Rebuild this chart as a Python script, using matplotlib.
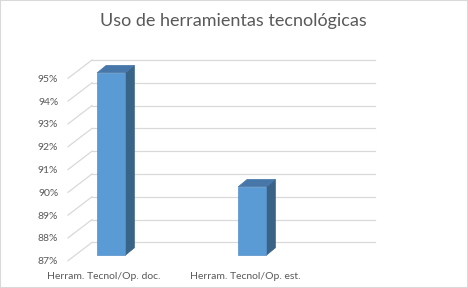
import matplotlib
matplotlib.use("Agg")
import matplotlib.pyplot as plt
from matplotlib.patches import Polygon, Rectangle
from matplotlib.ticker import FuncFormatter

categories = ["Herram. Tecnol/Op. doc.", "Herram. Tecnol/Op. est."]
values = [95, 90]
y_ticks = [87, 88, 89, 90, 91, 92, 93, 94, 95]
title = "Uso de herramientas tecnológicas"

plt.rcParams["font.family"] = ["Lato", "DejaVu Sans"]
TEXT = "#595959"
GRID = "#d9d9d9"
FRONT = "#5b9bd5"
TOP = "#4677a8"
SIDE = "#3a6388"

W, H = 468, 288
fig = plt.figure(figsize=(W / 100, H / 100), dpi=100)
fig.patch.set_facecolor("white")

# front plane of the 3d box, in pixels
left, right, top, bottom = 68, 351, 78.3, 260.7
ax = fig.add_axes([left / W, 1 - bottom / H, (right - left) / W, (bottom - top) / H])
ax.set_xlim(-0.255, 1.752)
ax.set_ylim(y_ticks[0], y_ticks[-1])

px_x = (right - left) / (1.752 + 0.255)
px_y = (bottom - top) / (y_ticks[-1] - y_ticks[0])

# wall depth offset (pixels -> data)
wdx, wdy = 24 / px_x, 18.3 / px_y
x0, x1 = ax.get_xlim()
for v in y_ticks:
    ax.plot([x0 + wdx, x1 + wdx], [v + wdy, v + wdy], color=GRID, lw=0.9,
            clip_on=False, zorder=1)
    ax.plot([x0, x0 + wdx], [v, v + wdy], color=GRID, lw=0.9,
            clip_on=False, zorder=1)

# bars
bw = 0.2
bx, by = 7.3 / px_x, 5.5 / px_y
ddx, ddy = 9 / px_x, 7.4 / px_y
for i, v in enumerate(values):
    xa, xb = i - bw / 2 + bx, i + bw / 2 + bx
    ya, yb = y_ticks[0] + by, v + by
    ax.add_patch(Polygon([(xb, ya), (xb, yb), (xb + ddx, yb + ddy), (xb + ddx, ya + ddy)],
                         closed=True, facecolor=SIDE, edgecolor=SIDE, lw=0.5,
                         clip_on=False, zorder=3))
    ax.add_patch(Polygon([(xa, yb), (xb, yb), (xb + ddx, yb + ddy), (xa + ddx, yb + ddy)],
                         closed=True, facecolor=TOP, edgecolor=TOP, lw=0.5,
                         clip_on=False, zorder=3))
    ax.add_patch(Rectangle((xa, ya), xb - xa, yb - ya, facecolor=FRONT,
                           edgecolor="#5590c8", lw=0.5, clip_on=False, zorder=4))

ax.set_yticks(y_ticks)
ax.yaxis.set_major_formatter(FuncFormatter(lambda v, p: "%d%%" % v))
ax.set_xticks(range(len(categories)))
ax.set_xticklabels(categories)
ax.tick_params(axis="y", length=0, pad=7, labelsize=7.5, labelcolor=TEXT)
ax.tick_params(axis="x", length=0, pad=8, labelsize=7.5, labelcolor=TEXT)
for s in ax.spines.values():
    s.set_visible(False)
ax.patch.set_alpha(0)

fig.text(233 / W, 1 - 21 / H, title, ha="center", va="center", fontsize=13,
         color=TEXT, fontweight="normal")

fig.patches.append(Rectangle((0, 0), 1, 1, fill=False, edgecolor=GRID, lw=1.5,
                             transform=fig.transFigure))

fig.savefig("out.png", dpi=100)
